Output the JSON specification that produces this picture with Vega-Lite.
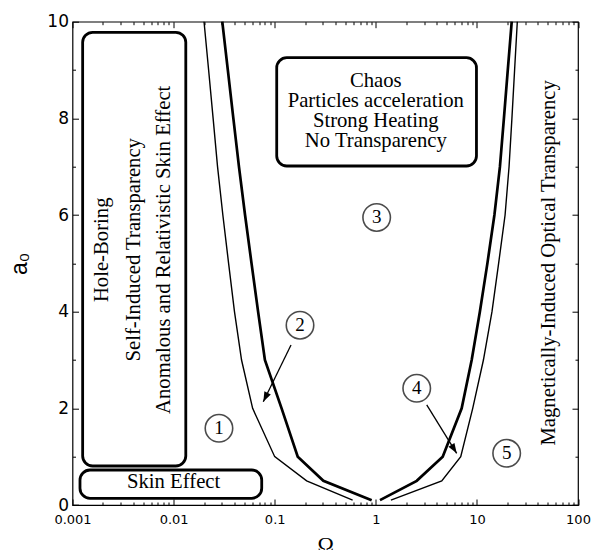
{
  "$schema": "https://vega.github.io/schema/vega-lite/v6.json",
  "width": 505.5,
  "height": 483.3,
  "autosize": "none",
  "padding": {"left": 72.5, "top": 21.7, "right": 13, "bottom": 45},
  "background": "white",
  "config": {
    "view": {"stroke": "black", "strokeWidth": 1.2},
    "axis": {"grid": false, "domain": false, "tickColor": "black", "tickWidth": 1, "labelColor": "black", "titleColor": "black"}
  },
  "datasets": {
    "curves": [
      {"branch": "left", "edge": "inner", "a": 10, "omega": 0.0303},
      {"branch": "left", "edge": "inner", "a": 9, "omega": 0.0344},
      {"branch": "left", "edge": "inner", "a": 8, "omega": 0.039},
      {"branch": "left", "edge": "inner", "a": 7, "omega": 0.0443},
      {"branch": "left", "edge": "inner", "a": 6, "omega": 0.0509},
      {"branch": "left", "edge": "inner", "a": 5, "omega": 0.059},
      {"branch": "left", "edge": "inner", "a": 4, "omega": 0.0685},
      {"branch": "left", "edge": "inner", "a": 3, "omega": 0.08},
      {"branch": "left", "edge": "inner", "a": 2, "omega": 0.117},
      {"branch": "left", "edge": "inner", "a": 1, "omega": 0.169},
      {"branch": "left", "edge": "inner", "a": 0.5, "omega": 0.303},
      {"branch": "left", "edge": "inner", "a": 0.1, "omega": 0.91},
      {"branch": "left", "edge": "outer", "a": 10, "omega": 0.02},
      {"branch": "left", "edge": "outer", "a": 9, "omega": 0.0222},
      {"branch": "left", "edge": "outer", "a": 8, "omega": 0.0246},
      {"branch": "left", "edge": "outer", "a": 7, "omega": 0.0272},
      {"branch": "left", "edge": "outer", "a": 6, "omega": 0.0307},
      {"branch": "left", "edge": "outer", "a": 5, "omega": 0.035},
      {"branch": "left", "edge": "outer", "a": 4, "omega": 0.04},
      {"branch": "left", "edge": "outer", "a": 3, "omega": 0.047},
      {"branch": "left", "edge": "outer", "a": 2, "omega": 0.0605},
      {"branch": "left", "edge": "outer", "a": 1, "omega": 0.1},
      {"branch": "left", "edge": "outer", "a": 0.5, "omega": 0.207},
      {"branch": "left", "edge": "outer", "a": 0.1, "omega": 0.59},
      {"branch": "right", "edge": "inner", "a": 0.1, "omega": 1.1},
      {"branch": "right", "edge": "inner", "a": 0.5, "omega": 2.54},
      {"branch": "right", "edge": "inner", "a": 1, "omega": 4.59},
      {"branch": "right", "edge": "inner", "a": 2, "omega": 7.07},
      {"branch": "right", "edge": "inner", "a": 3, "omega": 8.88},
      {"branch": "right", "edge": "inner", "a": 4, "omega": 10.7},
      {"branch": "right", "edge": "inner", "a": 5, "omega": 12.7},
      {"branch": "right", "edge": "inner", "a": 6, "omega": 14.9},
      {"branch": "right", "edge": "inner", "a": 7, "omega": 16.9},
      {"branch": "right", "edge": "inner", "a": 8, "omega": 18.5},
      {"branch": "right", "edge": "inner", "a": 9, "omega": 20.2},
      {"branch": "right", "edge": "inner", "a": 10, "omega": 22.1},
      {"branch": "right", "edge": "outer", "a": 0.1, "omega": 1.41},
      {"branch": "right", "edge": "outer", "a": 0.5, "omega": 4.49},
      {"branch": "right", "edge": "outer", "a": 1, "omega": 6.92},
      {"branch": "right", "edge": "outer", "a": 2, "omega": 9.09},
      {"branch": "right", "edge": "outer", "a": 3, "omega": 11.6},
      {"branch": "right", "edge": "outer", "a": 4, "omega": 14.1},
      {"branch": "right", "edge": "outer", "a": 5, "omega": 16.4},
      {"branch": "right", "edge": "outer", "a": 6, "omega": 19.0},
      {"branch": "right", "edge": "outer", "a": 7, "omega": 20.8},
      {"branch": "right", "edge": "outer", "a": 8, "omega": 22.2},
      {"branch": "right", "edge": "outer", "a": 9, "omega": 23.6},
      {"branch": "right", "edge": "outer", "a": 10, "omega": 25.1}
    ],
    "boxes": [
      {"name": "hole", "x1": 0.00126, "x2": 0.0132, "y1": 0.807, "y2": 9.78},
      {"name": "skin", "x1": 0.001186, "x2": 0.0744, "y1": 0.139, "y2": 0.724},
      {"name": "chaos", "x1": 0.1047, "x2": 9.9, "y1": 7.014, "y2": 9.255}
    ],
    "htext": [
      {"t": "Chaos", "x": 1.0, "y": 8.655},
      {"t": "Particles acceleration", "x": 1.0, "y": 8.241},
      {"t": "Strong Heating", "x": 1.0, "y": 7.827},
      {"t": "No Transparency", "x": 1.0, "y": 7.414},
      {"t": "Skin Effect", "x": 0.01, "y": 0.346}
    ],
    "vtext": [
      {"t": "Hole-Boring", "x": 0.00196, "y": 5.28},
      {"t": "Self-Induced Transparency", "x": 0.00405, "y": 5.28},
      {"t": "Anomalous and Relativistic Skin Effect", "x": 0.00804, "y": 5.28},
      {"t": "Magnetically-Induced Optical Transparency", "x": 51.6, "y": 5.01}
    ],
    "circles": [
      {"n": "1", "x": 0.0281, "y": 1.587},
      {"n": "2", "x": 0.178, "y": 3.72},
      {"n": "3", "x": 1.02, "y": 5.95},
      {"n": "4", "x": 2.54, "y": 2.415},
      {"n": "5", "x": 19.7, "y": 1.07}
    ],
    "arrows": [
      {"id": "2", "x1": 0.145, "y1": 3.31, "x2": 0.0771, "y2": 2.137},
      {"id": "4", "x1": 3.19, "y1": 2.07, "x2": 6.31, "y2": 1.07}
    ]
  },
  "resolve": {"axis": {"x": "independent", "y": "independent"}},
  "layer": [
    {
      "data": {"name": "curves"},
      "transform": [{"filter": "datum.edge == 'outer'"}],
      "mark": {"type": "line", "color": "black", "strokeWidth": 1.4},
      "encoding": {
        "x": {"field": "omega", "type": "quantitative", "scale": {"type": "log", "domain": [0.001, 100]},
          "axis": {"orient": "bottom", "values": [0.001, 0.01, 0.1, 1, 10, 100], "format": "~g", "ticks": false, "labelFont": "DejaVu Sans", "labelFontSize": 13, "labelPadding": 8, "labelFlush": false, "title": "Ω", "titleFont": "Liberation Serif", "titleFontSize": 22, "titleFontWeight": "normal", "titlePadding": 8}},
        "y": {"field": "a", "type": "quantitative", "scale": {"domain": [0, 10]},
          "axis": {"orient": "left", "values": [0, 2, 4, 6, 8, 10], "ticks": false, "labelFont": "DejaVu Sans", "labelFontSize": 17, "labelPadding": 4, "labelFlush": false, "title": "a₀", "titleFont": "Liberation Sans", "titleFontSize": 23, "titleFontWeight": "normal", "titlePadding": 15}},
        "detail": {"field": "branch"},
        "order": {"field": "a"}
      }
    },
    {
      "data": {"name": "curves"},
      "transform": [{"filter": "datum.edge == 'inner'"}],
      "mark": {"type": "line", "color": "black", "strokeWidth": 2.7},
      "encoding": {
        "x": {"field": "omega", "type": "quantitative", "scale": {"type": "log", "domain": [0.001, 100]},
          "axis": {"orient": "bottom", "values": [0.001, 0.01, 0.1, 1, 10, 100], "labels": false, "tickSize": -6, "title": null}},
        "y": {"field": "a", "type": "quantitative", "scale": {"domain": [0, 10]},
          "axis": {"orient": "left", "values": [0, 2, 4, 6, 8, 10], "labels": false, "tickSize": -6, "title": null}},
        "detail": {"field": "branch"},
        "order": {"field": "a"}
      }
    },
    {
      "data": {"name": "boxes"},
      "mark": {"type": "rect", "filled": false, "stroke": "black", "strokeWidth": 2.8, "cornerRadius": 10},
      "encoding": {
        "x": {"field": "x1", "type": "quantitative", "scale": {"type": "log", "domain": [0.001, 100]},
          "axis": {"orient": "bottom", "values": [0.002, 0.003, 0.004, 0.005, 0.006, 0.007, 0.008, 0.009, 0.02, 0.03, 0.04, 0.05, 0.06, 0.07, 0.08, 0.09, 0.2, 0.3, 0.4, 0.5, 0.6, 0.7, 0.8, 0.9, 2, 3, 4, 5, 6, 7, 8, 9, 20, 30, 40, 50, 60, 70, 80, 90], "labels": false, "tickSize": -3, "title": null}},
        "x2": {"field": "x2"},
        "y": {"field": "y1", "type": "quantitative", "scale": {"domain": [0, 10]},
          "axis": {"orient": "left", "values": [1, 3, 5, 7, 9], "labels": false, "tickSize": -3, "title": null}},
        "y2": {"field": "y2"}
      }
    },
    {
      "data": {"name": "htext"},
      "mark": {"type": "text", "font": "Liberation Serif", "fontSize": 20.7, "align": "center", "baseline": "alphabetic", "color": "black"},
      "encoding": {
        "x": {"field": "x", "type": "quantitative", "scale": {"type": "log", "domain": [0.001, 100]},
          "axis": {"orient": "top", "values": [0.001, 0.01, 0.1, 1, 10, 100], "labels": false, "tickSize": -6, "title": null}},
        "y": {"field": "y", "type": "quantitative", "scale": {"domain": [0, 10]},
          "axis": {"orient": "right", "values": [0, 2, 4, 6, 8, 10], "labels": false, "tickSize": -6, "title": null}},
        "text": {"field": "t"}
      }
    },
    {
      "data": {"name": "vtext"},
      "mark": {"type": "text", "font": "Liberation Serif", "fontSize": 20.7, "align": "center", "baseline": "middle", "angle": 270, "color": "black"},
      "encoding": {
        "x": {"field": "x", "type": "quantitative", "scale": {"type": "log", "domain": [0.001, 100]},
          "axis": {"orient": "top", "values": [0.002, 0.003, 0.004, 0.005, 0.006, 0.007, 0.008, 0.009, 0.02, 0.03, 0.04, 0.05, 0.06, 0.07, 0.08, 0.09, 0.2, 0.3, 0.4, 0.5, 0.6, 0.7, 0.8, 0.9, 2, 3, 4, 5, 6, 7, 8, 9, 20, 30, 40, 50, 60, 70, 80, 90], "labels": false, "tickSize": -3, "title": null}},
        "y": {"field": "y", "type": "quantitative", "scale": {"domain": [0, 10]},
          "axis": {"orient": "right", "values": [1, 3, 5, 7, 9], "labels": false, "tickSize": -3, "title": null}},
        "text": {"field": "t"}
      }
    },
    {
      "data": {"name": "circles"},
      "mark": {"type": "point", "shape": "circle", "filled": false, "stroke": "black", "strokeWidth": 1.6, "size": 755},
      "encoding": {
        "x": {"field": "x", "type": "quantitative", "scale": {"type": "log", "domain": [0.001, 100]}, "axis": null},
        "y": {"field": "y", "type": "quantitative", "scale": {"domain": [0, 10]}, "axis": null}
      }
    },
    {
      "data": {"name": "circles"},
      "mark": {"type": "text", "font": "Liberation Serif", "fontSize": 19, "align": "center", "baseline": "middle", "color": "black"},
      "encoding": {
        "x": {"field": "x", "type": "quantitative", "scale": {"type": "log", "domain": [0.001, 100]}, "axis": null},
        "y": {"field": "y", "type": "quantitative", "scale": {"domain": [0, 10]}, "axis": null},
        "text": {"field": "n"}
      }
    },
    {
      "data": {"name": "arrows"},
      "mark": {"type": "rule", "color": "black", "strokeWidth": 1.3},
      "encoding": {
        "x": {"field": "x1", "type": "quantitative", "scale": {"type": "log", "domain": [0.001, 100]}, "axis": null},
        "x2": {"field": "x2"},
        "y": {"field": "y1", "type": "quantitative", "scale": {"domain": [0, 10]}, "axis": null},
        "y2": {"field": "y2"}
      }
    },
    {
      "data": {"name": "arrows"},
      "transform": [{"filter": "datum.id == '2'"}],
      "mark": {"type": "point", "shape": "M0,0L0.65,1.8L-0.65,1.8Z", "filled": true, "color": "black", "opacity": 1, "size": 121, "angle": 206},
      "encoding": {
        "x": {"field": "x2", "type": "quantitative", "scale": {"type": "log", "domain": [0.001, 100]}, "axis": null},
        "y": {"field": "y2", "type": "quantitative", "scale": {"domain": [0, 10]}, "axis": null}
      }
    },
    {
      "data": {"name": "arrows"},
      "transform": [{"filter": "datum.id == '4'"}],
      "mark": {"type": "point", "shape": "M0,0L0.65,1.8L-0.65,1.8Z", "filled": true, "color": "black", "opacity": 1, "size": 121, "angle": 148},
      "encoding": {
        "x": {"field": "x2", "type": "quantitative", "scale": {"type": "log", "domain": [0.001, 100]}, "axis": null},
        "y": {"field": "y2", "type": "quantitative", "scale": {"domain": [0, 10]}, "axis": null}
      }
    }
  ]
}
